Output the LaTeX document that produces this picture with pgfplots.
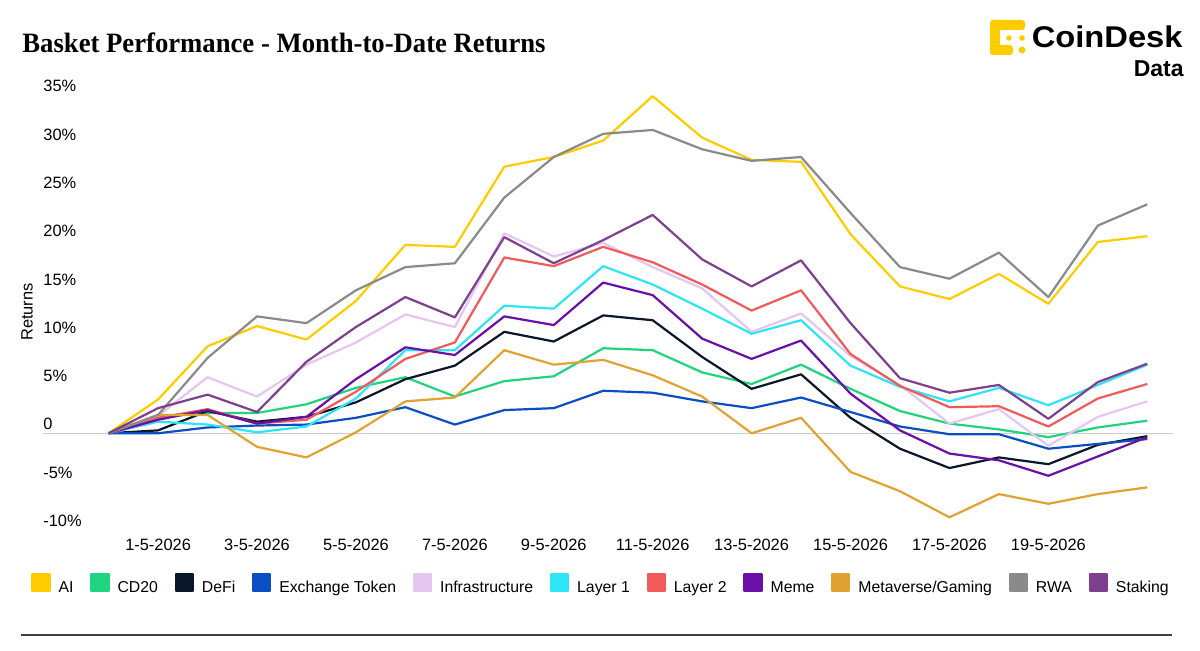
\documentclass[border=0pt]{standalone}
\usepackage{pgfplots}
\pgfplotsset{compat=1.18}
\usepackage{pgfplotstable}
\usepackage{fontspec}
\setmainfont{Liberation Sans}
\newfontfamily\titlefont{Liberation Serif}
\definecolor{cAI}{HTML}{FFCC00}
\definecolor{cCD}{HTML}{1FD47E}
\definecolor{cDeFi}{HTML}{0B1628}
\definecolor{cEx}{HTML}{0B4EC4}
\definecolor{cInfra}{HTML}{E4C6F1}
\definecolor{cL1}{HTML}{2EE4F6}
\definecolor{cL2}{HTML}{F05A5A}
\definecolor{cMeme}{HTML}{6A0FA8}
\definecolor{cMeta}{HTML}{E2A232}
\definecolor{cRWA}{HTML}{8A8A8A}
\definecolor{cStk}{HTML}{7D3F8E}
\definecolor{zeroline}{HTML}{CCCCCC}

\pgfplotstableread{
d  AI   CD   DeFi Ex   Infra L1   L2   Meme Meta RWA  Stk
0  0    0    0    0    0     0    0    0    0    0    0
1  3.5  1.8  0.3  0.0  1.8   1.2  1.6  1.4  1.9  1.9  2.6
2  9.0  2.1  2.3  0.6  5.8   0.9  2.5  2.4  1.9  7.8  4.0
3  11.1 2.1  1.2  0.8  3.8   0.1  1.0  1.0  -1.4 12.1 2.2
4  9.7  3.0  1.7  0.9  7.1   0.7  1.4  1.7  -2.5 11.4 7.4
5  13.7 4.7  3.2  1.6  9.4   3.6  4.3  5.6  0.1  14.8 11.0
6  19.5 5.8  5.6  2.7  12.3  8.6  7.7  8.9  3.3  17.2 14.1
7  19.3 3.8  7.0  0.9  11.0  8.6  9.4  8.1  3.7  17.6 12.0
8  27.6 5.4  10.5 2.4  20.7  13.2 18.2 12.1 8.6  24.4 20.3
9  28.6 5.9  9.5  2.6  18.3  12.9 17.3 11.2 7.1  28.6 17.6
10 30.3 8.8  12.2 4.4  19.7  17.3 19.3 15.6 7.6  31.0 20.0
11 34.9 8.6  11.7 4.2  17.2  15.4 17.7 14.3 6.0  31.4 22.6
12 30.6 6.3  7.9  3.3  15.0  12.9 15.4 9.8  3.8  29.4 18.0
13 28.3 5.1  4.6  2.6  10.5  10.3 12.7 7.7  0.0  28.2 15.2
14 28.1 7.1  6.1  3.7  12.4  11.7 14.8 9.6  1.6  28.6 17.9
15 20.6 4.6  1.6  2.2  8.0   7.0  8.2  4.1  -4.0 22.8 11.4
16 15.2 2.3  -1.6 0.7  5.0   4.8  4.9  0.3  -6.0 17.2 5.7
17 13.9 1.0  -3.6 -0.1 1.0   3.3  2.7  -2.1 -8.7 16.0 4.2
18 16.5 0.4  -2.5 -0.1 2.5   4.7  2.8  -2.8 -6.3 18.7 5.0
19 13.4 -0.4 -3.2 -1.6 -1.3  2.9  0.7  -4.4 -7.3 14.1 1.5
20 19.8 0.6  -1.2 -1.1 1.7   5.0  3.6  -2.4 -6.3 21.5 5.3
21 20.4 1.3  -0.3 -0.6 3.3   7.1  5.1  -0.4 -5.6 23.7 7.2
}\basket

\begin{document}
\begin{tikzpicture}
\useasboundingbox (0pt,0pt) rectangle (600pt,325.5pt);
\begin{axis}[
  at={(21.5pt,58.15pt)}, anchor=south west,
  scale only axis, width=565pt, height=219.75pt,
  xmin=-1.327, xmax=21.52, ymin=-10.5, ymax=35,
  axis line style={draw=none}, tick style={draw=none},
  clip=false,
  xtick={1,3,...,19},
  xticklabels={1-5-2026,3-5-2026,5-5-2026,7-5-2026,9-5-2026,11-5-2026,13-5-2026,15-5-2026,17-5-2026,19-5-2026},
  ytick={-10,-5,...,35},
  yticklabels={-10\%,-5\%,0,5\%,10\%,15\%,20\%,25\%,30\%,35\%},
  yticklabel style={anchor=base west, inner sep=0pt, yshift=1.65pt, font=\fontsize{8.2}{10}\selectfont},
  xticklabel style={anchor=base, inner sep=0pt, yshift=-8.1pt, font=\fontsize{8.2}{10}\selectfont},
  legend columns=-1,
  legend image code/.code={\fill[#1] (0pt,-1.4pt) rectangle (8.5pt,7.1pt);},
  legend style={at={(axis description cs:-0.0106,-0.1133)}, anchor=west,
    draw=none, fill=none, inner sep=0pt,
    font=\fontsize{7.9}{10}\selectfont,
    nodes={inner sep=0pt},
    /tikz/every odd column/.append style={column sep=4pt},
    /tikz/every even column/.append style={column sep=8.4pt}},
  legend cell align=left,
  every axis plot/.append style={line width=1.1pt, line join=round},
]
\addplot[zeroline, line width=0.7pt, forget plot] coordinates {(-1.327,0) (21.52,0)};
\addplot[color=cAI]    table[x=d,y=AI]    {\basket};
\addplot[color=cCD]    table[x=d,y=CD]    {\basket};
\addplot[color=cDeFi]  table[x=d,y=DeFi]  {\basket};
\addplot[color=cEx]    table[x=d,y=Ex]    {\basket};
\addplot[color=cInfra] table[x=d,y=Infra] {\basket};
\addplot[color=cL1]    table[x=d,y=L1]    {\basket};
\addplot[color=cL2]    table[x=d,y=L2]    {\basket};
\addplot[color=cMeme]  table[x=d,y=Meme]  {\basket};
\addplot[color=cMeta]  table[x=d,y=Meta]  {\basket};
\addplot[color=cRWA]   table[x=d,y=RWA]   {\basket};
\addplot[color=cStk]   table[x=d,y=Stk]   {\basket};
\legend{AI,CD20,DeFi,Exchange Token,Infrastructure,Layer 1,Layer 2,Meme,Metaverse/Gaming,RWA,Staking}
\end{axis}
% title
\node[anchor=base west, inner sep=0pt] at (11pt,299pt)
  {\scalebox{0.953}[1]{\titlefont\bfseries\fontsize{14}{16}\selectfont Basket Performance - Month-to-Date Returns}};
% y label
\node[rotate=90, inner sep=0pt, font=\fontsize{8.2}{10}\selectfont] at (13.5pt,169.5pt) {Returns};
% logo
\fill[cAI, rounded corners=1.5pt] (495pt,310.5pt) rectangle (512.5pt,315.5pt);
\fill[cAI, rounded corners=1.5pt] (495pt,298pt) rectangle (500pt,315.5pt);
\fill[cAI, rounded corners=1.5pt] (495pt,298pt) rectangle (506.5pt,303pt);
\fill[cAI] (511pt,300.5pt) circle (1.75pt);
\fill[cAI] (504.5pt,306.5pt) circle (1.4pt);
\fill[cAI] (511pt,306.5pt) circle (1.4pt);
\node[anchor=base east, inner sep=0pt] at (591.5pt,301.85pt)
  {\scalebox{1.09}[1]{\bfseries\fontsize{15}{17}\selectfont CoinDesk}};
\node[anchor=base east, inner sep=0pt] at (592pt,287.15pt)
  {\bfseries\fontsize{11.5}{13}\selectfont Data};
% bottom rule
\draw[line width=1pt, color=black!75] (10.5pt,8pt) -- (586pt,8pt);
\end{tikzpicture}
\end{document}
